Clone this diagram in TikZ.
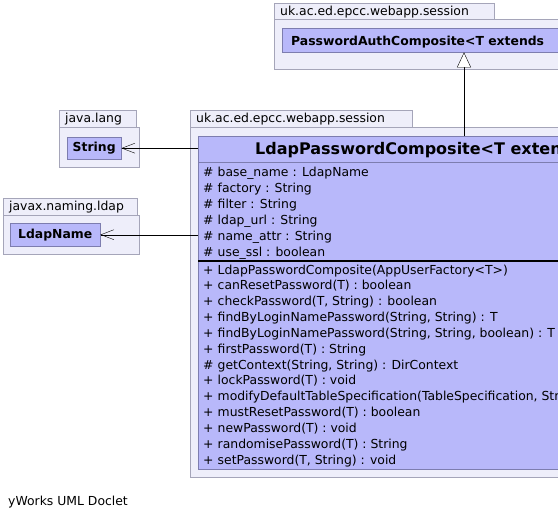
\documentclass[tikz,border=0pt]{standalone}
\usepackage{fontspec}
\setmainfont{DejaVu Sans}
\usetikzlibrary{arrows.meta,positioning}
\definecolor{pkgfill}{RGB}{238,238,250}
\definecolor{pkgline}{RGB}{165,165,185}
\definecolor{clsfill}{RGB}{184,184,250}
\definecolor{clsline}{RGB}{125,125,175}

\begin{document}
\begin{tikzpicture}[
    x=1pt, y=-1pt,
    font=\fontsize{12.4}{14}\selectfont,
    pkgtab/.style={rectangle, draw=pkgline, fill=pkgfill, anchor=north west, inner xsep=6pt, inner ysep=0pt, minimum height=17pt, align=left},
    pkgbody/.style={rectangle, draw=pkgline, fill=pkgfill, anchor=north west, inner sep=0pt},
    clsbox/.style={rectangle, draw=clsline, fill=clsfill, anchor=north west, inner sep=0pt, font=\fontsize{12.4}{14}\selectfont\bfseries},
    member/.style={anchor=base west, inner sep=0pt},
    inherit/.style={-{Triangle[length=15pt,width=14pt,fill=white]}},
    depend/.style={-{Straight Barb[length=13pt,width=10pt]}}
]
\useasboundingbox (0,0) rectangle (558,515);
\clip (0,0) rectangle (558,515);

% packages
\node[pkgtab, text width=208pt] (authtab) at (274,3) {uk.ac.ed.epcc.webapp.session};
\node[pkgbody, minimum width=320pt, minimum height=50pt] (authpkg) at (274,19) {};
\node[pkgtab, text width=65pt] (langtab) at (59,110) {java.lang};
\node[pkgbody, minimum width=80pt, minimum height=40pt] (langpkg) at (59,127) {};
\node[pkgtab, text width=122pt] (ldaptab) at (3,198) {javax.naming.ldap};
\node[pkgbody, minimum width=136pt, minimum height=39pt] (ldappkg) at (3,215) {};
\node[pkgtab, text width=210pt] (sestab) at (190,110) {uk.ac.ed.epcc.webapp.session};
\node[pkgbody, minimum width=420pt, minimum height=350pt] (sespkg) at (190,127) {};

% classes
\node[clsbox, minimum width=300pt, minimum height=24pt] (authcls) at (282,28) {};
\node[member, font=\fontsize{12.4}{14}\selectfont\bfseries] (authname) at (291,45.5) {PasswordAuthComposite<T extends};
\node[clsbox, minimum width=54pt, minimum height=22pt] (str) at (67,137) {String};
\node[clsbox, minimum width=90pt, minimum height=23pt] (ldapname) at (10,223) {LdapName};
\node[clsbox, minimum width=400pt, minimum height=333pt] (ldapcls) at (198,136) {};
\node[member, font=\fontsize{16}{18}\selectfont\bfseries] (ldaptitle) at (255,154.5) {LdapPasswordComposite<T exten};
\draw[clsline] (ldapcls.west |- 0,162) -- +(400,0);
\draw[black, line width=2pt] (ldapcls.west |- 0,260.5) -- +(400,0);

% attributes
\foreach \vis/\txt [count=\i] in {\#/{base\_name : LdapName}, \#/{factory : String}, \#/{filter : String}, \#/{ldap\_url : String}, \#/{name\_attr : String}, \#/{use\_ssl : boolean}}
  \node[member] at (203,160+16.1*\i) {\makebox[14.5pt][l]{\vis}\txt};

% methods
\foreach \vis/\txt [count=\i] in {+/{LdapPasswordComposite(AppUserFactory<T>)}, +/{canResetPassword(T) : boolean}, +/{checkPassword(T, String) : boolean}, +/{findByLoginNamePassword(String, String) : T}, +/{findByLoginNamePassword(String, String, boolean) : T}, +/{firstPassword(T) : String}, \#/{getContext(String, String) : DirContext}, +/{lockPassword(T) : void}, +/{modifyDefaultTableSpecification(TableSpecification, Str}, +/{mustResetPassword(T) : boolean}, +/{newPassword(T) : void}, +/{randomisePassword(T) : String}, +/{setPassword(T, String) : void}}
  \node[member] at (203,258.15+15.85*\i) {\makebox[14.5pt][l]{\vis}\txt};

% connectors
\coordinate (inh) at (464,136);
\draw[inherit] (inh) -- (inh |- authcls.south);
\draw[depend] (str.east -| ldapcls.west) -- (str.east);
\draw[depend] (ldapname.east -| ldapcls.west) -- (ldapname.east);

\node[member] (doclet) at (8,505) {yWorks UML Doclet};

\end{tikzpicture}
\end{document}
